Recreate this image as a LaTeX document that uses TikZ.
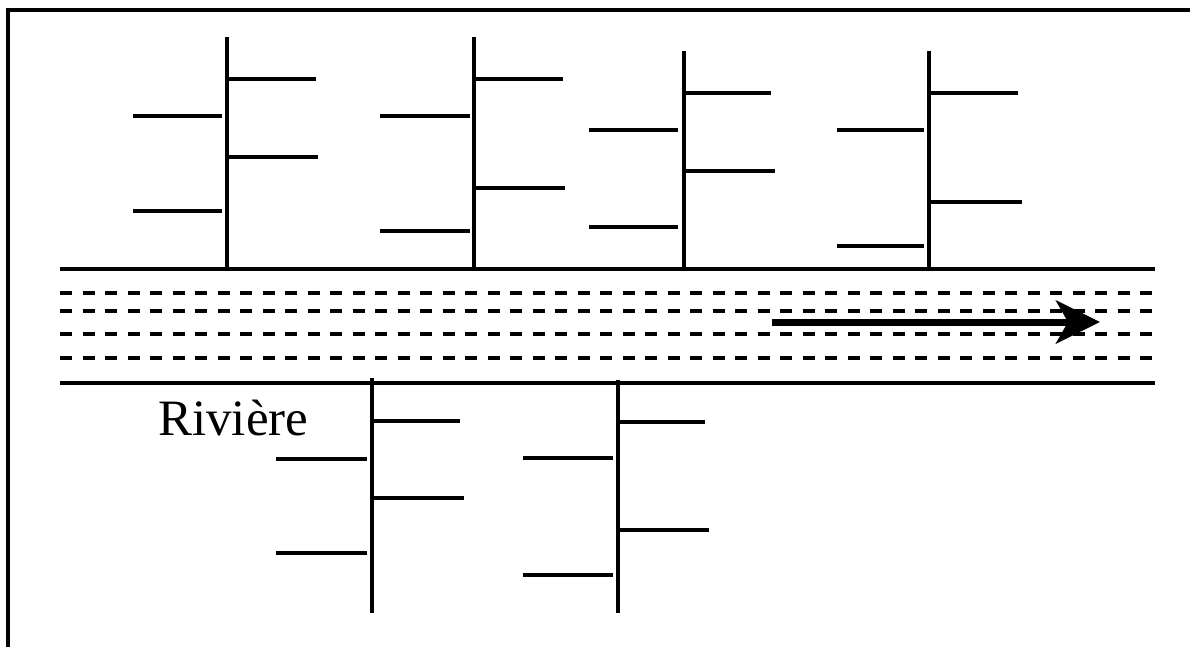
\documentclass[tikz,border=0pt]{standalone}
\usepackage{fontspec}
\setmainfont{Liberation Serif}
\usetikzlibrary{arrows.meta}
\begin{document}
\begin{tikzpicture}[x=1pt,y=-1pt,
  stroke/.style={line width=3.6pt},
  bank/.style={line width=3.6pt},
  water/.style={line width=3.6pt, dash pattern=on 12pt off 10.5pt},
  flow/.style={line width=7pt,-{Stealth[length=44pt,width=43pt,inset=12pt]}},
  lbl/.style={font=\fontsize{51}{57}\selectfont, inner sep=0pt, anchor=base west}]
\useasboundingbox (0,0) rectangle (1190,647);
\fill[white] (0,0) rectangle (1190,647);
% frame (left and top edges visible)
\draw[stroke] (8,647) -- (8,10) -- (1190,10);
% river banks
\coordinate (bl) at (60,269); \coordinate (br) at (1155,269);
\coordinate (cl) at (60,383); \coordinate (cr) at (1155,383);
\draw[bank] (bl) -- (br);
\draw[bank] (cl) -- (cr);
% water lines
\foreach \y in {293,311,334,358}
  \draw[water] (60,\y) -- (1155,\y);
% flow arrow
\coordinate (fa) at (772,322); \coordinate (fb) at (1100,322);
\draw[flow] (fa) -- (fb);
% tree 1
\draw[stroke] (227,37) -- (227,269);
\draw[stroke] (227,79) -- (316,79);
\draw[stroke] (227,157) -- (318,157);
\draw[stroke] (133,116) -- (222,116);
\draw[stroke] (133,211) -- (222,211);
% tree 2
\draw[stroke] (474,37) -- (474,269);
\draw[stroke] (474,79) -- (563,79);
\draw[stroke] (474,188) -- (565,188);
\draw[stroke] (380,116) -- (470,116);
\draw[stroke] (380,231) -- (470,231);
% tree 3
\draw[stroke] (684,51) -- (684,269);
\draw[stroke] (684,93) -- (771,93);
\draw[stroke] (684,171) -- (775,171);
\draw[stroke] (589,130) -- (678,130);
\draw[stroke] (589,227) -- (678,227);
% tree 4
\draw[stroke] (929,51) -- (929,269);
\draw[stroke] (929,93) -- (1018,93);
\draw[stroke] (929,202) -- (1022,202);
\draw[stroke] (837,130) -- (924,130);
\draw[stroke] (837,246) -- (924,246);
% lower tree 1
\draw[stroke] (372,378) -- (372,613);
\draw[stroke] (372,421) -- (460,421);
\draw[stroke] (372,498) -- (464,498);
\draw[stroke] (276,459) -- (367,459);
\draw[stroke] (276,553) -- (367,553);
% lower tree 2
\draw[stroke] (618,380) -- (618,613);
\draw[stroke] (618,422) -- (705,422);
\draw[stroke] (618,530) -- (709,530);
\draw[stroke] (523,458) -- (613,458);
\draw[stroke] (523,575) -- (613,575);
% label
\node[lbl] (riv) at (158,435) {Rivière};
\end{tikzpicture}
\end{document}
